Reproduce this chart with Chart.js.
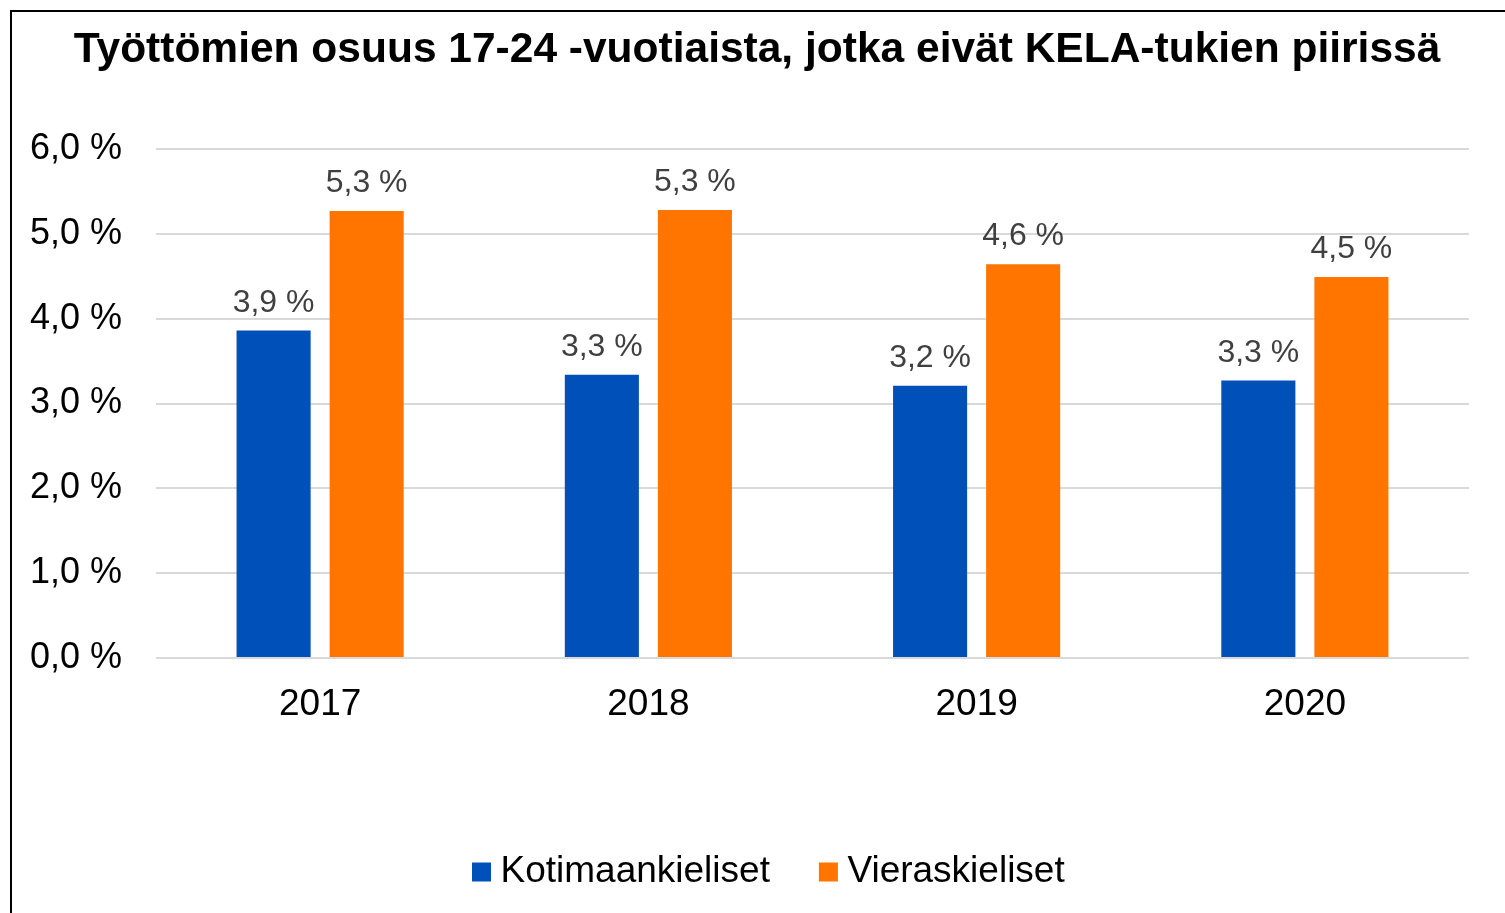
<!DOCTYPE html>
<html>
<head>
<meta charset="utf-8">
<script src="https://cdn.jsdelivr.net/npm/chart.js@4"></script>
<style>
  html, body { margin: 0; padding: 0; background: #fff; overflow: hidden; }
  #frame { position: absolute; left: 10px; top: 10px; width: 1520px; height: 940px; border: 2px solid #000; box-sizing: border-box; }
  #wrap { position: absolute; left: 0; top: 0; width: 1505px; height: 913px; }
</style>
</head>
<body>
<div id="frame"></div>
<div id="wrap"><canvas id="c" width="1505" height="913"></canvas></div>
<script>
const titleText = 'Työttömien osuus 17-24 -vuotiaista, jotka eivät KELA-tukien piirissä';
const categories = ['2017', '2018', '2019', '2020'];
const seriesNames = ['Kotimaankieliset', 'Vieraskieliset'];
const kotimaankieliset = [3.86, 3.34, 3.21, 3.27];
const vieraskieliset = [5.27, 5.28, 4.64, 4.49];
const yTicks = [0, 1, 2, 3, 4, 5, 6];

const FONT = "'Liberation Sans', Arial, sans-serif";
const fmt = v => v.toFixed(1).replace('.', ',') + ' %';

const valueLabels = {
  id: 'valueLabels',
  afterDatasetsDraw(chart) {
    const ctx = chart.ctx;
    ctx.save();
    ctx.font = '32px ' + FONT;
    ctx.fillStyle = '#404040';
    ctx.textAlign = 'center';
    ctx.textBaseline = 'alphabetic';
    chart.data.datasets.forEach((ds, i) => {
      chart.getDatasetMeta(i).data.forEach((bar, j) => {
        ctx.fillText(fmt(ds.data[j]), bar.x, bar.y - 19);
      });
    });
    ctx.restore();
  }
};

const customTitle = {
  id: 'customTitle',
  afterDraw(chart) {
    const ctx = chart.ctx;
    ctx.save();
    ctx.font = 'bold 42.5px ' + FONT;
    ctx.fillStyle = '#000';
    ctx.textAlign = 'center';
    ctx.textBaseline = 'alphabetic';
    ctx.fillText(titleText, 757, 62);
    ctx.restore();
  }
};

const customLegend = {
  id: 'customLegend',
  afterDraw(chart) {
    const ctx = chart.ctx;
    ctx.save();
    ctx.font = '37px ' + FONT;
    ctx.textBaseline = 'middle';
    ctx.textAlign = 'left';
    let x = 472;
    const cy = 872;
    chart.data.datasets.forEach(ds => {
      ctx.fillStyle = ds.backgroundColor;
      ctx.fillRect(x, cy - 9.5, 19, 19);
      x += 19 + 9.5;
      ctx.fillStyle = '#000';
      ctx.fillText(ds.label, x, cy);
      x += ctx.measureText(ds.label).width + 49;
    });
    ctx.restore();
  }
};

new Chart(document.getElementById('c'), {
  type: 'bar',
  data: {
    labels: categories,
    datasets: [
      { label: seriesNames[0], data: kotimaankieliset, backgroundColor: '#0050B9' },
      { label: seriesNames[1], data: vieraskieliset, backgroundColor: '#FF7500' }
    ]
  },
  options: {
    responsive: false,
    animation: false,
    devicePixelRatio: 1,
    categoryPercentage: 0.567,
    barPercentage: 0.796,
    layout: { padding: { top: 149, right: 36, bottom: 155, left: 0 } },
    plugins: {
      tooltip: { enabled: false },
      legend: { display: false },
      title: { display: false }
    },
    scales: {
      x: {
        grid: { display: false, drawTicks: false },
        border: { display: false },
        ticks: { color: '#000', font: { family: FONT, size: 37 }, padding: 25 },
        afterFit(scale) { scale.height = 100; }
      },
      y: {
        min: 0,
        max: 6,
        afterBuildTicks(scale) { scale.ticks = yTicks.map(v => ({ value: v })); },
        grid: { color: '#d9d9d9', lineWidth: 2, drawTicks: false },
        border: { display: false },
        ticks: {
          color: '#000',
          font: { family: FONT, size: 36 },
          padding: 34,
          callback: v => v.toFixed(1).replace('.', ',') + ' %'
        },
        afterFit(scale) { scale.width = 156; }
      }
    }
  },
  plugins: [valueLabels, customTitle, customLegend]
});
</script>
</body>
</html>
